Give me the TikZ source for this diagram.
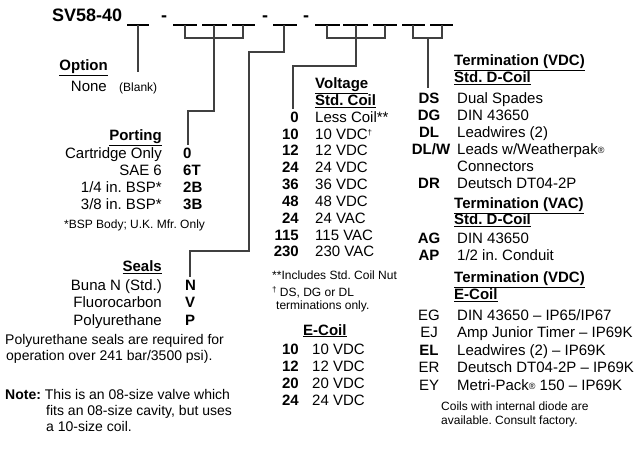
\documentclass[tikz,border=0pt]{standalone}
\usepackage{fontspec}
\setmainfont{Liberation Sans}
\frenchspacing
\newcommand\fsz[1]{\fontsize{#1bp}{#1bp}\selectfont}
\newcommand\regd{\raisebox{1bp}{\fsz{9}®}}
\newcommand\dagr{\raisebox{4bp}{\fsz{8}†}}

\begin{document}
\begin{tikzpicture}[x=1bp, y=-1bp, every node/.style={inner sep=0pt, font=\fsz{15}},
  lt/.style={anchor=base east}, rt/.style={anchor=base west},
  cd/.style={font=\fsz{15}\bfseries},
  hd/.style={anchor=base west, font=\fsz{15}\bfseries},
  sm/.style={anchor=base west, font=\fsz{12}},
  nt/.style={anchor=base west, font=\fsz{14}},
  ln/.style={line width=1.1bp, draw=black!75},
  blank/.style={line width=2.4bp}]
  \useasboundingbox (0,0) rectangle (636,459);
  % part number and blanks
  \node[rt, font=\fsz{18}\bfseries] (sv) at (52,22) {SV58-40};
  \node[anchor=base, font=\fsz{18}\bfseries] (h1) at (164,22) {-};
  \node[anchor=base, font=\fsz{18}\bfseries] (h2) at (265,22) {-};
  \node[anchor=base, font=\fsz{18}\bfseries] (h3) at (306,22) {-};
  \draw[blank] (127,25)--(149,25) (173,25)--(197,25) (202,25)--(227,25)
    (232,25)--(255,25) (273,25)--(297,25) (315,25)--(340,25)
    (343,25)--(368,25) (373,25)--(397,25) (402,25)--(425,25) (430,25)--(453,25);
  \coordinate (t1) at (138,25); \coordinate (e1) at (138,72);
  \coordinate (t2) at (185,25); \coordinate (t3) at (214,25);
  \coordinate (t4) at (243,25); \coordinate (e2) at (188,145);
  \coordinate (t5) at (284,25); \coordinate (e5) at (190,277);
  \coordinate (t6) at (327,25); \coordinate (t7) at (356,25);
  \coordinate (t8) at (385,25); \coordinate (e6) at (293,109);
  \coordinate (t9) at (413,25); \coordinate (t10) at (442,25);
  \coordinate (e9) at (428,88);
  \draw[ln] (t1)--(e1);
  \draw[ln] (t2)--++(0,13)-|(t4) (t3)--++(0,86)-|(e2);
  \draw[ln] (t5)--++(0,27)-|(249,251)-|(e5);
  \draw[ln] (t6)--++(0,13)-|(t8) (t7)--++(0,41)-|(e6);
  \draw[ln] (t9)--++(0,13)-|(t10) (428,38)--(e9);
  % option, porting, seals
  \node[hd,lt] (opt) at (108,71) {\underline{Option}};
  \node[lt] (none) at (107,92) {None};
  \node[sm] (blk) at (119,92) {(Blank)};
  \node[hd,lt] (port) at (162,141) {\underline{Porting}};
  \node[lt] (p1) at (162,159) {Cartridge Only}; \node[rt,cd] (p1c) at (183,159) {0};
  \node[lt] (p2) at (162,176) {SAE 6};          \node[rt,cd] (p2c) at (183,176) {6T};
  \node[lt] (p3) at (162,193) {1/4 in. BSP*};   \node[rt,cd] (p3c) at (183,193) {2B};
  \node[lt] (p4) at (162,210) {3/8 in. BSP*};   \node[rt,cd] (p4c) at (183,210) {3B};
  \node[sm] (bsp) at (64,229) {*BSP Body; U.K. Mfr. Only};
  \node[hd,lt] (seal) at (162,272) {\underline{Seals}};
  \node[lt] (s1) at (162,291) {Buna N (Std.)}; \node[rt,cd] (s1c) at (185,291) {N};
  \node[lt] (s2) at (162,308) {Fluorocarbon};  \node[rt,cd] (s2c) at (185,308) {V};
  \node[lt] (s3) at (162,325) {Polyurethane};  \node[rt,cd] (s3c) at (185,325) {P};
  \node[nt] (pn1) at (5,344) {Polyurethane seals are required for};
  \node[nt] (pn2) at (6,360) {operation over 241 bar/3500 psi).};
  \node[nt] (nt1) at (5,399) {\textbf{Note:} This is an 08-size valve which};
  \node[nt] (nt2) at (46,415) {fits an 08-size cavity, but uses};
  \node[nt] (nt3) at (46,431) {a 10-size coil.};
  % voltage
  \node[hd] (volt) at (315,89) {\underline{Voltage}};
  \node[hd] (std) at (315,106) {\underline{Std. Coil}};
  \node[lt,cd] (v1c) at (299,123) {0};   \node[rt] (v1) at (315,123) {Less Coil**};
  \node[lt,cd] (v2c) at (299,140) {10};  \node[rt] (v2) at (315,140) {10 VDC\dagr};
  \node[lt,cd] (v3c) at (299,156) {12};  \node[rt] (v3) at (315,156) {12 VDC};
  \node[lt,cd] (v4c) at (299,173) {24};  \node[rt] (v4) at (315,173) {24 VDC};
  \node[lt,cd] (v5c) at (299,190) {36};  \node[rt] (v5) at (315,190) {36 VDC};
  \node[lt,cd] (v6c) at (299,207) {48};  \node[rt] (v6) at (315,207) {48 VDC};
  \node[lt,cd] (v7c) at (299,224) {24};  \node[rt] (v7) at (315,224) {24 VAC};
  \node[lt,cd] (v8c) at (299,241) {115}; \node[rt] (v8) at (315,241) {115 VAC};
  \node[lt,cd] (v9c) at (299,257) {230}; \node[rt] (v9) at (315,257) {230 VAC};
  \node[sm] (fn1) at (272,280) {**Includes Std. Coil Nut};
  \node[sm] (fn2) at (272,297) {\dagr\ DS, DG or DL};
  \node[sm] (fn3) at (276,310) {terminations only.};
  \node[hd] (ecoil) at (303,335) {\underline{E-Coil}};
  \node[lt,cd] (w1c) at (299,354) {10}; \node[rt] (w1) at (312,354) {10 VDC};
  \node[lt,cd] (w2c) at (299,371) {12}; \node[rt] (w2) at (312,371) {12 VDC};
  \node[lt,cd] (w3c) at (299,388) {20}; \node[rt] (w3) at (312,388) {20 VDC};
  \node[lt,cd] (w4c) at (299,405) {24}; \node[rt] (w4) at (312,405) {24 VDC};
  % termination
  \node[hd] (tdc) at (454,66) {\underline{Termination (VDC)}};
  \node[hd] (tdd) at (454,83) {\underline{Std. D-Coil}};
  \node[anchor=base,cd] (d1c) at (429,104) {DS};   \node[rt] (d1) at (457,104) {Dual Spades};
  \node[anchor=base,cd] (d2c) at (429,121) {DG};   \node[rt] (d2) at (457,121) {DIN 43650};
  \node[anchor=base,cd] (d3c) at (429,138) {DL};   \node[rt] (d3) at (457,138) {Leadwires (2)};
  \node[anchor=base,cd] (d4c) at (431,155) {DL/W}; \node[rt] (d4) at (457,155) {Leads w/Weatherpak\regd};
  \node[rt] (d4b) at (457,172) {Connectors};
  \node[anchor=base,cd] (d5c) at (429,189) {DR};   \node[rt] (d5) at (457,189) {Deutsch DT04-2P};
  \node[hd] (tac) at (454,209) {\underline{Termination (VAC)}};
  \node[hd] (tad) at (454,225) {\underline{Std. D-Coil}};
  \node[anchor=base,cd] (a1c) at (429,244) {AG}; \node[rt] (a1) at (457,244) {DIN 43650};
  \node[anchor=base,cd] (a2c) at (429,261) {AP}; \node[rt] (a2) at (457,261) {1/2 in. Conduit};
  \node[hd] (tec) at (454,283) {\underline{Termination (VDC)}};
  \node[hd] (ted) at (454,300) {\underline{E-Coil}};
  \node[anchor=base] (x1c) at (429,320) {EG};    \node[rt] (x1) at (457,320) {DIN 43650 -- IP65/IP67};
  \node[anchor=base] (x2c) at (429,337) {EJ};    \node[rt] (x2) at (457,337) {Amp Junior Timer -- IP69K};
  \node[anchor=base,cd] (x3c) at (429,355) {EL}; \node[rt] (x3) at (457,355) {Leadwires (2) -- IP69K};
  \node[anchor=base] (x4c) at (429,372) {ER};    \node[rt] (x4) at (457,372) {Deutsch DT04-2P -- IP69K};
  \node[anchor=base] (x5c) at (429,390) {EY};    \node[rt] (x5) at (457,390) {Metri-Pack\regd{} 150 -- IP69K};
  \node[sm] (dio1) at (441,410) {Coils with internal diode are};
  \node[sm] (dio2) at (441,424) {available. Consult factory.};
\end{tikzpicture}
\end{document}
